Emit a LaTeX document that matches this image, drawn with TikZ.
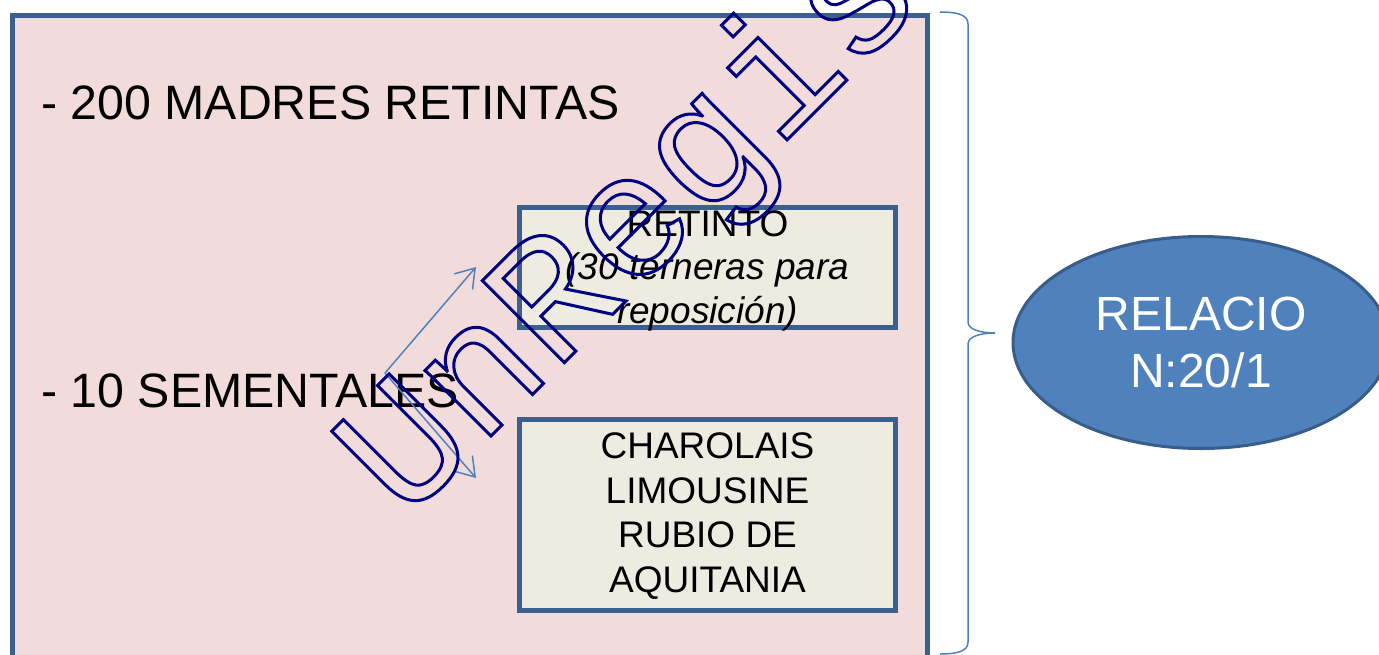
\documentclass[tikz,border=0pt]{standalone}
\usepackage{fontspec}
\setmainfont{Liberation Sans}
\newfontfamily\wmfont{Liberation Mono}
\usetikzlibrary{arrows.meta,shapes.geometric}
\definecolor{pinkbg}{HTML}{F2DCDB}
\definecolor{boxbg}{HTML}{EEECE1}
\definecolor{edgeblue}{HTML}{3B5F8E}
\definecolor{accent}{HTML}{4F81BD}
\definecolor{ellipseedge}{HTML}{385D8A}
\definecolor{wmnavy}{HTML}{000080}
\begin{document}
\begin{tikzpicture}[x=1pt,y=-1pt,
  panel/.style={draw=edgeblue, line width=5pt, fill=pinkbg, inner sep=0pt},
  breedbox/.style={draw=edgeblue, line width=5pt, fill=boxbg, minimum width=376pt, inner sep=0pt},
  boxtext/.style={align=center, inner sep=0pt, font=\fontsize{37}{43.5}\selectfont},
  bigtext/.style={anchor=base west, inner sep=0pt, font=\fontsize{48.3}{57.6}\selectfont},
  link/.style={draw=accent, line width=1.5pt, -{Straight Barb[length=18pt,width=24pt]}},
]
\useasboundingbox (0,0) rectangle (1379,654);
\clip (0,0) rectangle (1379,654);
\fill[white] (0,0) rectangle (1379,654);
\node[panel, minimum width=915.5pt, minimum height=700pt, anchor=north west] (panel) at (9.5,12.5) {};
\node[bigtext] (madres) at (41,119) {- 200 MADRES RETINTAS};
\node[bigtext] (sementales) at (41,407) {- 10 SEMENTALES};
\node[breedbox, minimum height=120pt] (retinto) at (707.5,267.5) {};
\node[boxtext] (retintotext) at (707.5,270.5) {RETINTO\\{\itshape (30 terneras para}\\{\itshape reposición)}};
\node[breedbox, minimum height=191pt] (charolais) at (707.5,514.5) {};
\node[boxtext, font=\fontsize{37}{44.8}\selectfont] (charolaistext) at (707.5,516) {CHAROLAIS\\LIMOUSINE\\RUBIO DE\\AQUITANIA};
\node[ellipse, draw=ellipseedge, line width=3pt, fill=accent, minimum width=376pt, minimum height=212pt, inner sep=0pt, text=white, align=center, font=\fontsize{48}{57.6}\selectfont] (relacion) at (1201,342.5) {RELACIO\\N:20/1};
\draw[accent, line width=1.5pt] (940,12) .. controls (958,12) and (968,15) .. (968,24) -- (968,322) .. controls (968,330) and (982,333) .. (995,333) .. controls (982,333) and (968,336) .. (968,344) -- (968,642) .. controls (968,651) and (958,654) .. (940,654);
\coordinate (fork) at (385,373);
\coordinate (upTip) at (476,267);
\coordinate (downTip) at (476,478);
\draw[link] (fork) -- (upTip);
\draw[link] (fork) -- (downTip);
\node[rotate=45, anchor=base west, inner sep=0pt, text=wmnavy, font=\wmfont\fontsize{176}{176}\selectfont] (watermark) at (405,522) {\special{pdf:literal direct 1 Tr 3 w}UnRegistered\special{pdf:literal direct 0 Tr}};
\end{tikzpicture}
\end{document}
